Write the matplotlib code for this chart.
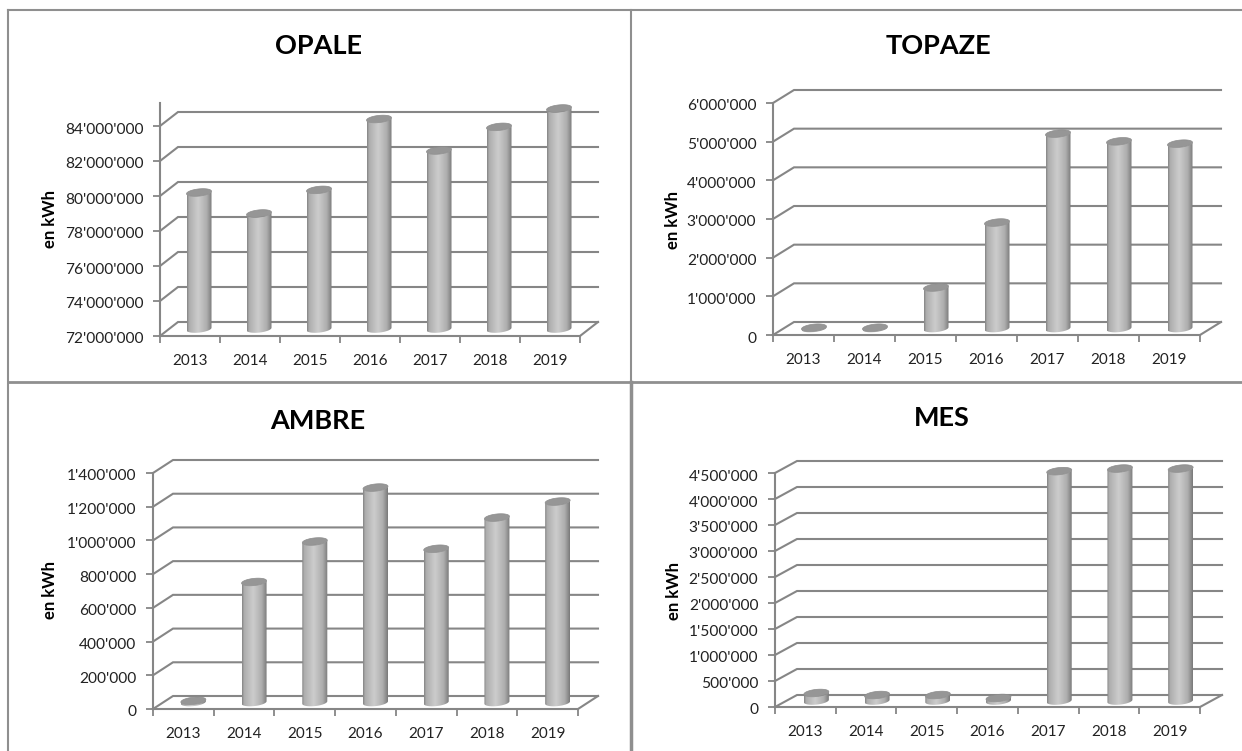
import numpy as np
from matplotlib import pyplot as plt
from matplotlib.patches import Polygon
from matplotlib.ticker import FuncFormatter
from matplotlib.transforms import ScaledTranslation

plt.rcParams['font.family'] = ['Lato', 'DejaVu Sans']

W = 1242
H = 751

years = ['2013', '2014', '2015', '2016', '2017', '2018', '2019']

opale_values = [79800000, 78600000, 79950000, 84000000, 82200000, 83550000, 84600000]
topaze_values = [20000, 20000, 1060000, 2740000, 5040000, 4840000, 4780000]
ambre_values = [10000, 715000, 955000, 1275000, 912000, 1097000, 1192000]
mes_values = [154000, 115000, 115000, 58000, 4420000, 4470000, 4470000]

opale_ticks = [72000000, 74000000, 76000000, 78000000, 80000000, 82000000, 84000000]
topaze_ticks = [0, 1000000, 2000000, 3000000, 4000000, 5000000, 6000000]
ambre_ticks = [0, 200000, 400000, 600000, 800000, 1000000, 1200000, 1400000]
mes_ticks = [0, 500000, 1000000, 1500000, 2000000, 2500000, 3000000, 3500000, 4000000, 4500000]

line_color = '#868686'
text_color = '#222222'

fig = plt.figure(figsize=(W / 100, H / 100), dpi=100)


def fmt(v, pos=None):
    return f'{int(v):,}'.replace(',', "'")


def panel(title, values, ticks, x0, x1, y_bot, y_top_tick, y_axis_top, depth_x, depth_y,
          title_xy, ylabel_x, ylabel_y):
    # the axes is the front plane of the excel 3d chart
    ax = fig.add_axes([x0 / W, 1 - y_bot / H, (x1 - x0) / W, (y_bot - y_axis_top) / H])
    ax.patch.set_alpha(0)
    px_per_val = (y_bot - y_top_tick) / (ticks[-1] - ticks[0])
    px_per_cat = (x1 - x0) / len(years)
    ytop = ticks[0] + (y_bot - y_axis_top) / px_per_val

    ddx = depth_x / px_per_cat
    ddy = depth_y / px_per_val

    # walls
    for t in ticks:
        ax.plot([0, ddx, 7 + ddx], [t, t + ddy, t + ddy], color=line_color, lw=1.5,
                clip_on=False, zorder=1, solid_joinstyle='miter')
    ax.plot([7, 7 + ddx], [ticks[0], ticks[0] + ddy], color=line_color, lw=1.5, clip_on=False, zorder=1)

    # cylinders
    half_w = 12.5 / px_per_cat
    for i, v in enumerate(values):
        cx = i + 0.5 + ddx / 2
        base = ticks[0] + ddy / 2
        top = v + ddy / 2
        a = np.linspace(0, 2 * np.pi, 60)
        ex = np.cos(a) * 12.5
        ey = np.sin(a) * 3.6 + ex * 0.1
        low = np.linspace(np.pi, 2 * np.pi, 30)
        lx = np.cos(low) * 12.5
        ly = np.sin(low) * 3.6 + lx * 0.1

        body_x = list(cx + lx / px_per_cat) + list(cx + lx[::-1] / px_per_cat)
        body_y = list(base + ly / px_per_val) + list(top + (ly[::-1]) / px_per_val)
        body = Polygon(np.column_stack([body_x, body_y]), closed=True, fc='none', ec='none',
                       transform=ax.transData)
        ax.add_patch(body)
        grad = np.interp(np.linspace(0, 1, 64), [0, 0.08, 0.45, 0.8, 1],
                         [0.52, 0.68, 0.80, 0.68, 0.48])
        im = ax.imshow(grad[np.newaxis, :], cmap='gray', vmin=0, vmax=1, aspect='auto',
                       extent=[cx - half_w, cx + half_w,
                               base - 6 / px_per_val, top + 6 / px_per_val],
                       zorder=3, interpolation='bilinear')
        im.set_clip_box(fig.bbox)
        im.set_clip_path(body)
        ax.add_patch(Polygon(np.column_stack([cx + ex / px_per_cat, top + ey / px_per_val]),
                             closed=True, fc='#969696', ec='#8c8c8c', lw=0.5, zorder=4, clip_on=False))

    ax.set_xlim(0, 7)
    ax.set_ylim(ticks[0], ytop)

    for s in ['top', 'right']:
        ax.spines[s].set_visible(False)
    for s in ['left', 'bottom']:
        ax.spines[s].set_color(line_color)
        ax.spines[s].set_linewidth(1.5)
        ax.spines[s].set_zorder(2)

    ax.set_xticks(range(8))
    ax.set_xticklabels([])
    ax.set_xticks(np.arange(7) + 0.5, years, minor=True)
    ax.tick_params(axis='x', which='major', length=5, width=1.3, color=line_color)
    ax.tick_params(axis='x', which='minor', length=0, pad=13, labelsize=11, labelcolor=text_color)
    ax.set_yticks(ticks)
    ax.yaxis.set_major_formatter(FuncFormatter(fmt))
    ax.tick_params(axis='y', length=5, width=1.3, color=line_color, pad=7, labelsize=11.2,
                   labelcolor=text_color)
    # labels sit a little under their tick in the original
    down = ScaledTranslation(0, -2 / 100, fig.dpi_scale_trans)
    for lab in ax.get_yticklabels():
        lab.set_transform(lab.get_transform() + down)

    ax.set_ylabel('en kWh', fontsize=12, fontweight='bold', color='black', va='center')
    ax.yaxis.set_label_coords((ylabel_x - x0) / (x1 - x0), (y_bot - ylabel_y) / (y_bot - y_axis_top))
    fig.text(title_xy[0] / W, 1 - title_xy[1] / H, title, fontsize=19.5, fontweight='bold',
             color='black', ha='center', va='center')


panel('OPALE', opale_values, opale_ticks, 160, 580, 336, 126, 103, 18, 14, (319, 46), 50, 219)
panel('TOPAZE', topaze_values, topaze_ticks, 773, 1200, 335, 103, 103, 21, 13, (938, 46), 673, 220)
panel('AMBRE', ambre_values, ambre_ticks, 153, 578, 709, 473, 473, 20, 13, (318, 421), 50, 590)
panel('MES', mes_values, mes_ticks, 775, 1200, 707, 473, 473, 22, 12, (942, 418), 674, 591)

# frames around the four pasted charts
frame = '#8f8f8f'
for xs, ys, lw in [([8, 8], [10, 751], 1.5),
                   ([8, 1242], [10, 10], 1.5),
                   ([0 + 8, 1242], [382, 382], 2),
                   ([630.5, 630.5], [10, 382], 1.5),
                   ([630.5, 630.5], [382, 751], 2.5)]:
    fig.add_artist(plt.Line2D([x / W for x in xs], [1 - y / H for y in ys], color=frame, lw=lw))

fig.savefig('out.png', dpi=100)
